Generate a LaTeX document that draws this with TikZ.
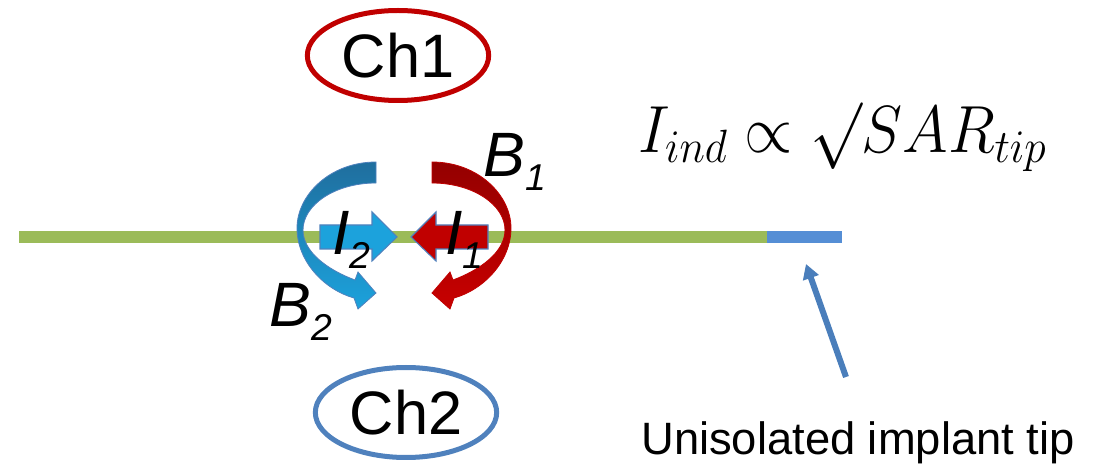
\RequirePackage{fix-cm}
\documentclass[tikz,border=0pt]{standalone}
\usepackage{fontspec}
\setmainfont{Liberation Sans}
\usetikzlibrary{arrows.meta,shapes.geometric}

\definecolor{chred}{HTML}{C00000}
\definecolor{chblue}{HTML}{4F81BD}
\definecolor{wire}{HTML}{9BBB59}
\definecolor{wiretip}{HTML}{558ED5}
\definecolor{pointer}{HTML}{4A7EBB}
\definecolor{fieldblueA}{HTML}{1F6E9E}
\definecolor{fieldblueB}{HTML}{1CA2DC}
\definecolor{fieldredA}{HTML}{940000}
\definecolor{fieldredB}{HTML}{C80000}
\definecolor{edgeblue}{HTML}{4F81BD}

% italic symbol with a lowered index
\newcommand\fieldlabel[2]{\fontsize{47}{47}\selectfont\itshape #1\raisebox{-10pt}{\fontsize{28}{28}\selectfont #2}}

\begin{document}
\begin{tikzpicture}[x=0.75pt,y=-0.75pt,
  chan/.style={ellipse, line width=3.75pt, minimum width=136pt, minimum height=67.5pt,
    inner sep=0pt, font=\fontsize{46}{50}\selectfont},
  lbl/.style={anchor=base west, inner sep=0pt},
  currentarrow/.style={draw=edgeblue, line width=0.8pt, line join=miter},
  ptr/.style={draw=pointer, line width=4.5pt, -{Triangle[length=11pt,width=12pt]}}
]
\useasboundingbox (0,0) rectangle (1115,466);

% the implant wire and its bare tip
\coordinate (wireL) at (19,237);
\coordinate (wireR) at (767,237);
\coordinate (tipR) at (842,237);
\draw[wire, line width=9pt] (wireL) -- (wireR);
\draw[wiretip, line width=8.5pt] (wireR) -- (tipR);

% circulating field B2 (left) and the current I2
\shade[top color=fieldblueA, bottom color=fieldblueB, draw=edgeblue, line width=0.6pt]
  (376,162) .. controls (330,162) and (297,195) .. (297,228)
  .. controls (297,262) and (325,290) .. (354,298)
  -- (358,309) -- (376,293) -- (358,272) -- (355,280)
  .. controls (328,270) and (303,252) .. (303,230)
  .. controls (303,205) and (335,183) .. (376,183) -- cycle;
\fill[fieldblueB, currentarrow]
  (320,225) -- (372,225) -- (372,212) -- (397,237) -- (372,261) -- (372,249) -- (320,249) -- cycle;

% mirrored field B1 (right) and the current I1
\begin{scope}[shift={(808,0)}, xscale=-1]
\shade[top color=fieldredA, bottom color=fieldredB, draw=chred, line width=0.6pt]
  (376,162) .. controls (330,162) and (297,195) .. (297,228)
  .. controls (297,262) and (325,290) .. (354,298)
  -- (358,309) -- (376,293) -- (358,272) -- (355,280)
  .. controls (328,270) and (303,252) .. (303,230)
  .. controls (303,205) and (335,183) .. (376,183) -- cycle;
\fill[chred, currentarrow]
  (320,225) -- (372,225) -- (372,212) -- (397,237) -- (372,261) -- (372,249) -- (320,249) -- cycle;
\end{scope}

% field and current labels
\node[lbl] (labB1) at (483,177) {\fieldlabel{B}{1}};
\node[lbl] (labB2) at (269,327) {\fieldlabel{B}{2}};
\node[lbl] (labI2) at (332,255) {\fieldlabel{I}{2}};
\node[lbl] (labI1) at (445,255) {\fieldlabel{I}{1}};

% transmit channels
\node[chan, draw=chred] (ch1) at (398,55.5) {Ch1};
\node[chan, draw=chblue] (ch2) at (406,412.5) {Ch2};

% scaling law
\node[lbl] (law) at (638,153) {\scalebox{0.93}[1]{\fontsize{50}{55}\selectfont $I_{ind}\propto\surd SAR_{tip}$}};

% annotation of the tip
\node[lbl] (tiplabel) at (641,455) {\fontsize{34}{40}\selectfont Unisolated implant tip};
\coordinate (ptrtail) at (846,377);
\coordinate (ptrhead) at (806,264);
\draw[ptr] (ptrtail) -- (ptrhead);
\end{tikzpicture}
\end{document}
